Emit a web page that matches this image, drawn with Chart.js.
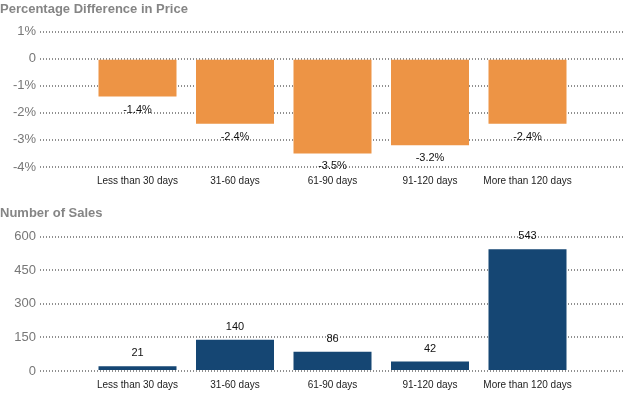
<!DOCTYPE html>
<html>
<head>
<meta charset="utf-8">
<script src="https://cdn.jsdelivr.net/npm/chart.js@4.4.0/dist/chart.umd.min.js"></script>
<style>
  body { margin: 0; background: #fff; }
  .box { position: absolute; left: 0; width: 633px; height: 200px; }
</style>
</head>
<body>
<div class="box" style="top:0"><canvas id="priceChart"></canvas></div>
<div class="box" style="top:200px"><canvas id="salesChart"></canvas></div>
<script>
const categories = ["Less than 30 days", "31-60 days", "61-90 days", "91-120 days", "More than 120 days"];
const priceDiff = [-1.4, -2.4, -3.5, -3.2, -2.4];
const salesCount = [21, 140, 86, 42, 543];
const priceTicks = [1, 0, -1, -2, -3, -4];
const salesTicks = [600, 450, 300, 150, 0];

const FONT = "'Liberation Sans', Arial, sans-serif";

// empty slot at each end so the bars sit in from the axis
const padLabels = ["", ...categories, ""];
const pad = (arr) => [null, ...arr, null];

// draws the value next to the end of every bar
const barLabels = {
    id: 'barLabels',
    afterDatasetsDraw(chart, args, opts) {
        const ctx = chart.ctx;
        const meta = chart.getDatasetMeta(0);
        const data = chart.data.datasets[0].data;
        ctx.save();
        ctx.font = "11px " + FONT;
        ctx.fillStyle = "#111";
        ctx.textAlign = "center";
        ctx.textBaseline = "middle";
        meta.data.forEach((el, i) => {
            const v = data[i];
            if (v === null) return;
            const y = v < 0 ? el.y + opts.gap : el.y - opts.gap;
            ctx.fillText(opts.format(v), el.x, y);
        });
        ctx.restore();
    }
};

function makeChart(id, values, color, ticks, tickFmt, labelFmt, titleText, titlePad, layoutPad) {
    return new Chart(document.getElementById(id), {
        type: 'bar',
        data: {
            labels: padLabels,
            datasets: [{
                data: pad(values),
                backgroundColor: color,
                borderWidth: 0,
                categoryPercentage: 0.8,
                barPercentage: 1.0
            }]
        },
        options: {
            responsive: true,
            maintainAspectRatio: false,
            animation: false,
            layout: { padding: layoutPad },
            scales: {
                x: {
                    offset: false,
                    grid: { display: false, drawTicks: false },
                    border: { display: false },
                    ticks: {
                        color: "#222",
                        font: { family: FONT, size: 10 },
                        padding: 8,
                        maxRotation: 0,
                        autoSkip: false
                    }
                },
                y: {
                    min: Math.min(...ticks),
                    max: Math.max(...ticks),
                    afterFit: (scale) => { scale.width = 40; },
                    afterBuildTicks: (scale) => { scale.ticks = ticks.map(v => ({ value: v })); },
                    grid: {
                        color: "#8f8f8f",
                        lineWidth: 2,
                        drawTicks: false
                    },
                    border: { display: false, dash: [1, 2] },
                    ticks: {
                        color: "#777",
                        font: { family: FONT, size: 13 },
                        padding: 4,
                        callback: tickFmt
                    }
                }
            },
            plugins: {
                legend: { display: false },
                tooltip: { enabled: false },
                title: {
                    display: true,
                    text: titleText,
                    align: 'start',
                    color: "#858585",
                    font: { family: FONT, size: 13, weight: 'bold' },
                    padding: titlePad
                },
                barLabels: { gap: 13, format: labelFmt }
            }
        },
        plugins: [barLabels]
    });
}

makeChart('priceChart', priceDiff, "#ED9445", priceTicks,
    (v) => v === 0 ? "0" : v + "%",
    (v) => v.toFixed(1) + "%",
    "Percentage Difference in Price",
    { top: 2, bottom: 14 },
    { left: 0, right: 5, top: 0, bottom: 5 });

makeChart('salesChart', salesCount, "#154673", salesTicks,
    (v) => String(v),
    (v) => String(v),
    "Number of Sales",
    { top: 6, bottom: 15 },
    { left: 0, right: 5, top: 0, bottom: 1 });
</script>
</body>
</html>
